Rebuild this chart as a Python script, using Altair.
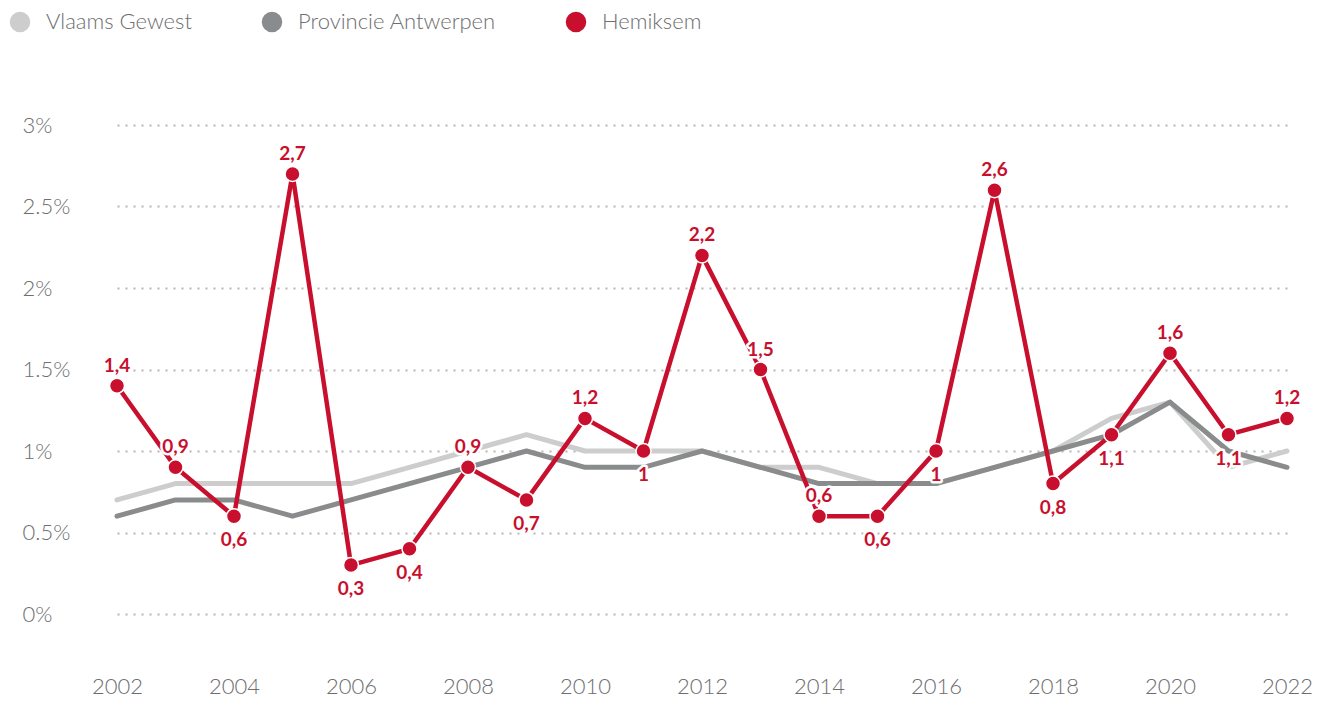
import altair as alt
import pandas as pd

years = list(range(2002, 2023))
vlaams = [0.7, 0.8, 0.8, 0.8, 0.8, 0.9, 1.0, 1.1, 1.0, 1.0, 1.0, 0.9, 0.9, 0.8, 0.8, 0.9, 1.0, 1.2, 1.3, 0.9, 1.0]
antwerpen = [0.6, 0.7, 0.7, 0.6, 0.7, 0.8, 0.9, 1.0, 0.9, 0.9, 1.0, 0.9, 0.8, 0.8, 0.8, 0.9, 1.0, 1.1, 1.3, 1.0, 0.9]
hemiksem = [1.4, 0.9, 0.6, 2.7, 0.3, 0.4, 0.9, 0.7, 1.2, 1.0, 2.2, 1.5, 0.6, 0.6, 1.0, 2.6, 0.8, 1.1, 1.6, 1.1, 1.2]
label_pos = ["above", "above", "below", "above", "below", "below", "above", "below", "above", "below",
             "above", "above", "above", "below", "below", "above", "below", "below", "above", "below", "above"]
series = ["Vlaams Gewest", "Provincie Antwerpen", "Hemiksem"]
colors = ["#cdcdcd", "#898b8d", "#c8102e"]
x_ticks = list(range(2002, 2023, 2))
y_ticks = [0, 0.5, 1, 1.5, 2, 2.5, 3]

gdf = pd.DataFrame({"jaar": years, "vlaams": vlaams, "antwerpen": antwerpen})
hdf = pd.DataFrame({"jaar": years, "reeks": "Hemiksem", "waarde": hemiksem, "pos": label_pos})
hdf["label"] = [("%g" % v).replace(".", ",") for v in hemiksem]

color_scale = alt.Scale(domain=series, range=colors)
FONT = "Lato"
AX_COLOR = "#6d6e70"

x_enc = alt.X("jaar:Q", scale=alt.Scale(domain=[2002, 2022], nice=False),
              axis=alt.Axis(values=x_ticks, format="d", title=None, grid=False, domain=False,
                            ticks=False, labelFontSize=22, labelColor=AX_COLOR, labelFont=FONT,
                            labelFontWeight=300, labelPadding=62, labelFlush=False,
                            labelOverlap=False))

def y_enc(field):
    return alt.Y(field, scale=alt.Scale(domain=[0, 3], nice=False),
                 axis=alt.Axis(values=y_ticks, labelExpr="datum.value + '%'", title=None, domain=False,
                               ticks=False, labelAlign="left", labelPadding=95, labelFontSize=22,
                               labelColor=AX_COLOR, labelFont=FONT, labelFontWeight=300,
                               labelFlush=False,
                               grid=True, gridColor="#b5b5b5", gridWidth=2, gridDash=[2, 6]))

gb = alt.Chart(gdf)
light_line = gb.mark_line(strokeWidth=5, strokeJoin="round", strokeCap="round", color=colors[0]).encode(
    x=x_enc, y=y_enc("vlaams:Q"))
dark_line = gb.mark_line(strokeWidth=5, strokeJoin="round", strokeCap="round", color=colors[1]).encode(
    x=x_enc, y=y_enc("antwerpen:Q"))

hb = alt.Chart(hdf)
red_line = hb.mark_line(strokeWidth=4.5, strokeJoin="round", color=colors[2]).encode(
    x=x_enc, y=y_enc("waarde:Q"))

red_points = hb.mark_point(filled=True, size=225, opacity=1, stroke="white", strokeWidth=1.5,
                           strokeOpacity=1).encode(
    x=x_enc, y=y_enc("waarde:Q"),
    color=alt.Color("reeks:N", scale=color_scale,
                    legend=alt.Legend(title=None, orient="none", direction="horizontal",
                                      legendX=-108, legendY=-114, symbolType="circle",
                                      symbolSize=420, symbolStrokeWidth=0, symbolOpacity=1,
                                      labelFontSize=22, labelFont=FONT, labelFontWeight=300,
                                      labelColor=AX_COLOR, columnPadding=69, labelOffset=15,
                                      labelLimit=400)),
)

def labels(pos, dy, halo):
    props = dict(fontSize=19, font=FONT, fontWeight="bold", dy=dy, align="center", baseline="middle")
    if halo:
        m = hb.transform_filter(alt.datum.pos == pos).mark_text(
            stroke="white", strokeWidth=5, fill="white", strokeJoin="round", **props)
    else:
        m = hb.transform_filter(alt.datum.pos == pos).mark_text(color=colors[2], **props)
    return m.encode(x=x_enc, y=y_enc("waarde:Q"), text="label:N")

chart = alt.layer(
    light_line, dark_line, red_line, red_points,
    labels("above", -20, True), labels("below", 24, True),
    labels("above", -20, False), labels("below", 24, False),
).properties(
    width=1170, height=489,
    autosize=alt.AutoSizeParams(type="none"),
    padding={"left": 109, "top": 117, "right": 25, "bottom": 88},
).configure(font=FONT).configure_view(stroke="transparent", strokeWidth=0)

chart.save("out.html", embed_options={"renderer": "svg", "actions": False})
